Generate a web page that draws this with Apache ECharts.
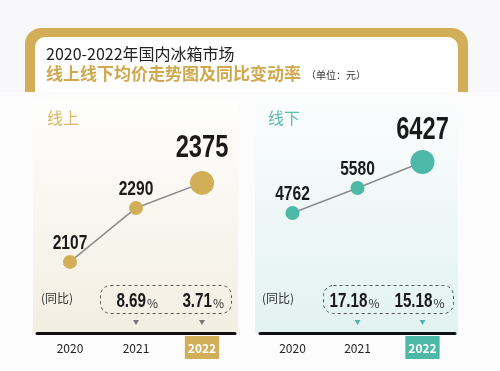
<!DOCTYPE html>
<html><head><meta charset="utf-8">
<script src="https://cdn.jsdelivr.net/npm/echarts@6/dist/echarts.min.js"></script>
<style>html,body{margin:0;padding:0;background:#f8f8fa}#c{width:500px;height:371px}</style>
</head><body><div id="c"></div>
<script>
const years = ['2020', '2021', '2022'];
const onlinePrice = [2107, 2290, 2375];
const offlinePrice = [4762, 5580, 6427];
const onlineYoY = [null, '8.69', '3.71'];
const offlineYoY = [null, '17.18', '15.18'];
const titleLine1 = '2020-2022年国内冰箱市场';
const titleLine2 = '线上线下均价走势图及同比变动率';
const unitText = '（单位：元）';

const GOLD = '#d3ae58';
const TEAL = '#4db8a6';
const NUMFONT = "'Liberation Sans',Arial,sans-serif";
const CJK = "'Noto Sans CJK SC','Noto Sans',sans-serif";

const chart = echarts.init(document.getElementById('c'), null, {renderer: 'canvas'});

function seriesData(vals) {
  return vals.map((v, i) => ({value: v, symbolSize: i === vals.length - 1 ? 24 : 14}));
}

function xAxisCfg(gi, color) {
  return {
    type: 'category', gridIndex: gi, data: years, boundaryGap: true,
    axisLine: {lineStyle: {color: '#111', width: 3}},
    axisTick: {show: false},
    axisLabel: {
      margin: 3, interval: 0,
      formatter: (v, i) => i === years.length - 1 ? '{h|' + v + '}' : '{n|' + v + '}',
      rich: {
        h: {backgroundColor: color, color: '#fff', fontWeight: 'bold', fontSize: 12, fontFamily: CJK, padding: [6, 3, 5, 3]},
        n: {color: '#222', fontSize: 12, fontFamily: CJK, padding: [6, 3, 5, 3]}
      }
    }
  };
}

const baseGraphics = [
  {type: 'rect', z: -10, shape: {x: 25, y: 28, width: 443, height: 100, r: 16}, style: {fill: GOLD}},
  {type: 'rect', z: -9, shape: {x: 35, y: 37, width: 423, height: 100, r: 10}, style: {fill: '#ffffff'}},
  {type: 'rect', z: -8, shape: {x: 0, y: 92, width: 500, height: 279}, style: {fill: '#fcfcfd'}},
  {type: 'rect', z: -7, shape: {x: 33, y: 100, width: 205, height: 233},
    style: {fill: new echarts.graphic.LinearGradient(0, 0, 0, 1, [{offset: 0, color: '#fefefd'}, {offset: 1, color: '#f3eee2'}])}},
  {type: 'rect', z: -7, shape: {x: 255, y: 100, width: 203, height: 233},
    style: {fill: new echarts.graphic.LinearGradient(0, 0, 0, 1, [{offset: 0, color: '#fbfdfd'}, {offset: 1, color: '#e2f2f0'}])}},
  {type: 'text', left: 46, top: 46, style: {text: titleLine1, fill: '#222', font: '16px ' + CJK}},
  {type: 'text', left: 46, top: 65, style: {text: titleLine2, fill: '#cfa94f', font: 'bold 17px ' + CJK}},
  {type: 'text', left: 306, top: 70, style: {text: unitText, fill: '#333', font: '10px ' + CJK}},
  {type: 'text', left: 47, top: 110, style: {text: '线上', fill: '#d8b766', font: '16px ' + CJK}},
  {type: 'text', left: 268, top: 110, style: {text: '线下', fill: '#5cbcae', font: '16px ' + CJK}},
  {type: 'text', left: 41, top: 292, style: {text: '(同比)', fill: '#333', font: '12px ' + CJK}},
  {type: 'text', left: 262, top: 292, style: {text: '(同比)', fill: '#333', font: '12px ' + CJK}},
  {type: 'rect', shape: {x: 100.5, y: 285.5, width: 131, height: 28, r: 10}, style: {fill: 'none', stroke: '#555', lineWidth: 1, lineDash: [3, 3]}},
  {type: 'rect', shape: {x: 323.5, y: 285.5, width: 130, height: 28, r: 10}, style: {fill: 'none', stroke: '#555', lineWidth: 1, lineDash: [3, 3]}}
];

chart.setOption({
  animation: false,
  backgroundColor: '#f8f8fa',
  grid: [
    {left: 37, top: 100, width: 198, height: 233},
    {left: 260, top: 100, width: 195, height: 233}
  ],
  xAxis: [xAxisCfg(0, GOLD), xAxisCfg(1, TEAL)],
  yAxis: [
    {type: 'value', gridIndex: 0, show: false, min: 1866, max: 2656},
    {type: 'value', gridIndex: 1, show: false, min: 844, max: 8451}
  ],
  series: [
    {type: 'line', xAxisIndex: 0, yAxisIndex: 0, data: seriesData(onlinePrice),
     symbol: 'circle', itemStyle: {color: GOLD}, lineStyle: {color: '#8c8c8c', width: 1.5}},
    {type: 'line', xAxisIndex: 1, yAxisIndex: 1, data: seriesData(offlinePrice),
     symbol: 'circle', itemStyle: {color: TEAL}, lineStyle: {color: '#8c8c8c', width: 1.5}}
  ],
  graphic: baseGraphics
});

const extra = [];
function addValueLabels(gridIdx, vals, bigOffset) {
  vals.forEach((v, i) => {
    const p = chart.convertToPixel({gridIndex: gridIdx}, [years[i], v]);
    const last = i === vals.length - 1;
    extra.push({type: 'text', x: p[0], y: p[1] - (last ? bigOffset : 19), scaleX: 0.74, z: 10,
      style: {text: String(v), align: 'center', verticalAlign: 'middle',
        font: 'bold ' + (last ? 32 : 21) + 'px ' + NUMFONT, fill: '#1a1a1a'}});
  });
}
function addYoY(axisIdx, yoy, triColor) {
  yoy.forEach((v, i) => {
    if (v === null) return;
    const x = chart.convertToPixel({xAxisIndex: axisIdx}, years[i]);
    extra.push({type: 'text', x: x + 10, y: 301, scaleX: 0.76, z: 10, style: {
      text: v, align: 'right', verticalAlign: 'middle', font: 'bold 20px ' + NUMFONT, fill: '#1a1a1a'}});
    extra.push({type: 'text', x: x + 11, y: 303, z: 10, style: {
      text: '%', align: 'left', verticalAlign: 'middle', font: '12px ' + CJK, fill: '#333'}});
    extra.push({type: 'polygon', shape: {points: [[x - 3, 320], [x + 3, 320], [x, 325]]}, style: {fill: triColor}});
  });
}
addValueLabels(0, onlinePrice, 35);
addValueLabels(1, offlinePrice, 32);
addYoY(0, onlineYoY, '#777');
addYoY(1, offlineYoY, TEAL);
chart.setOption({graphic: baseGraphics.concat(extra)});
</script></body></html>
